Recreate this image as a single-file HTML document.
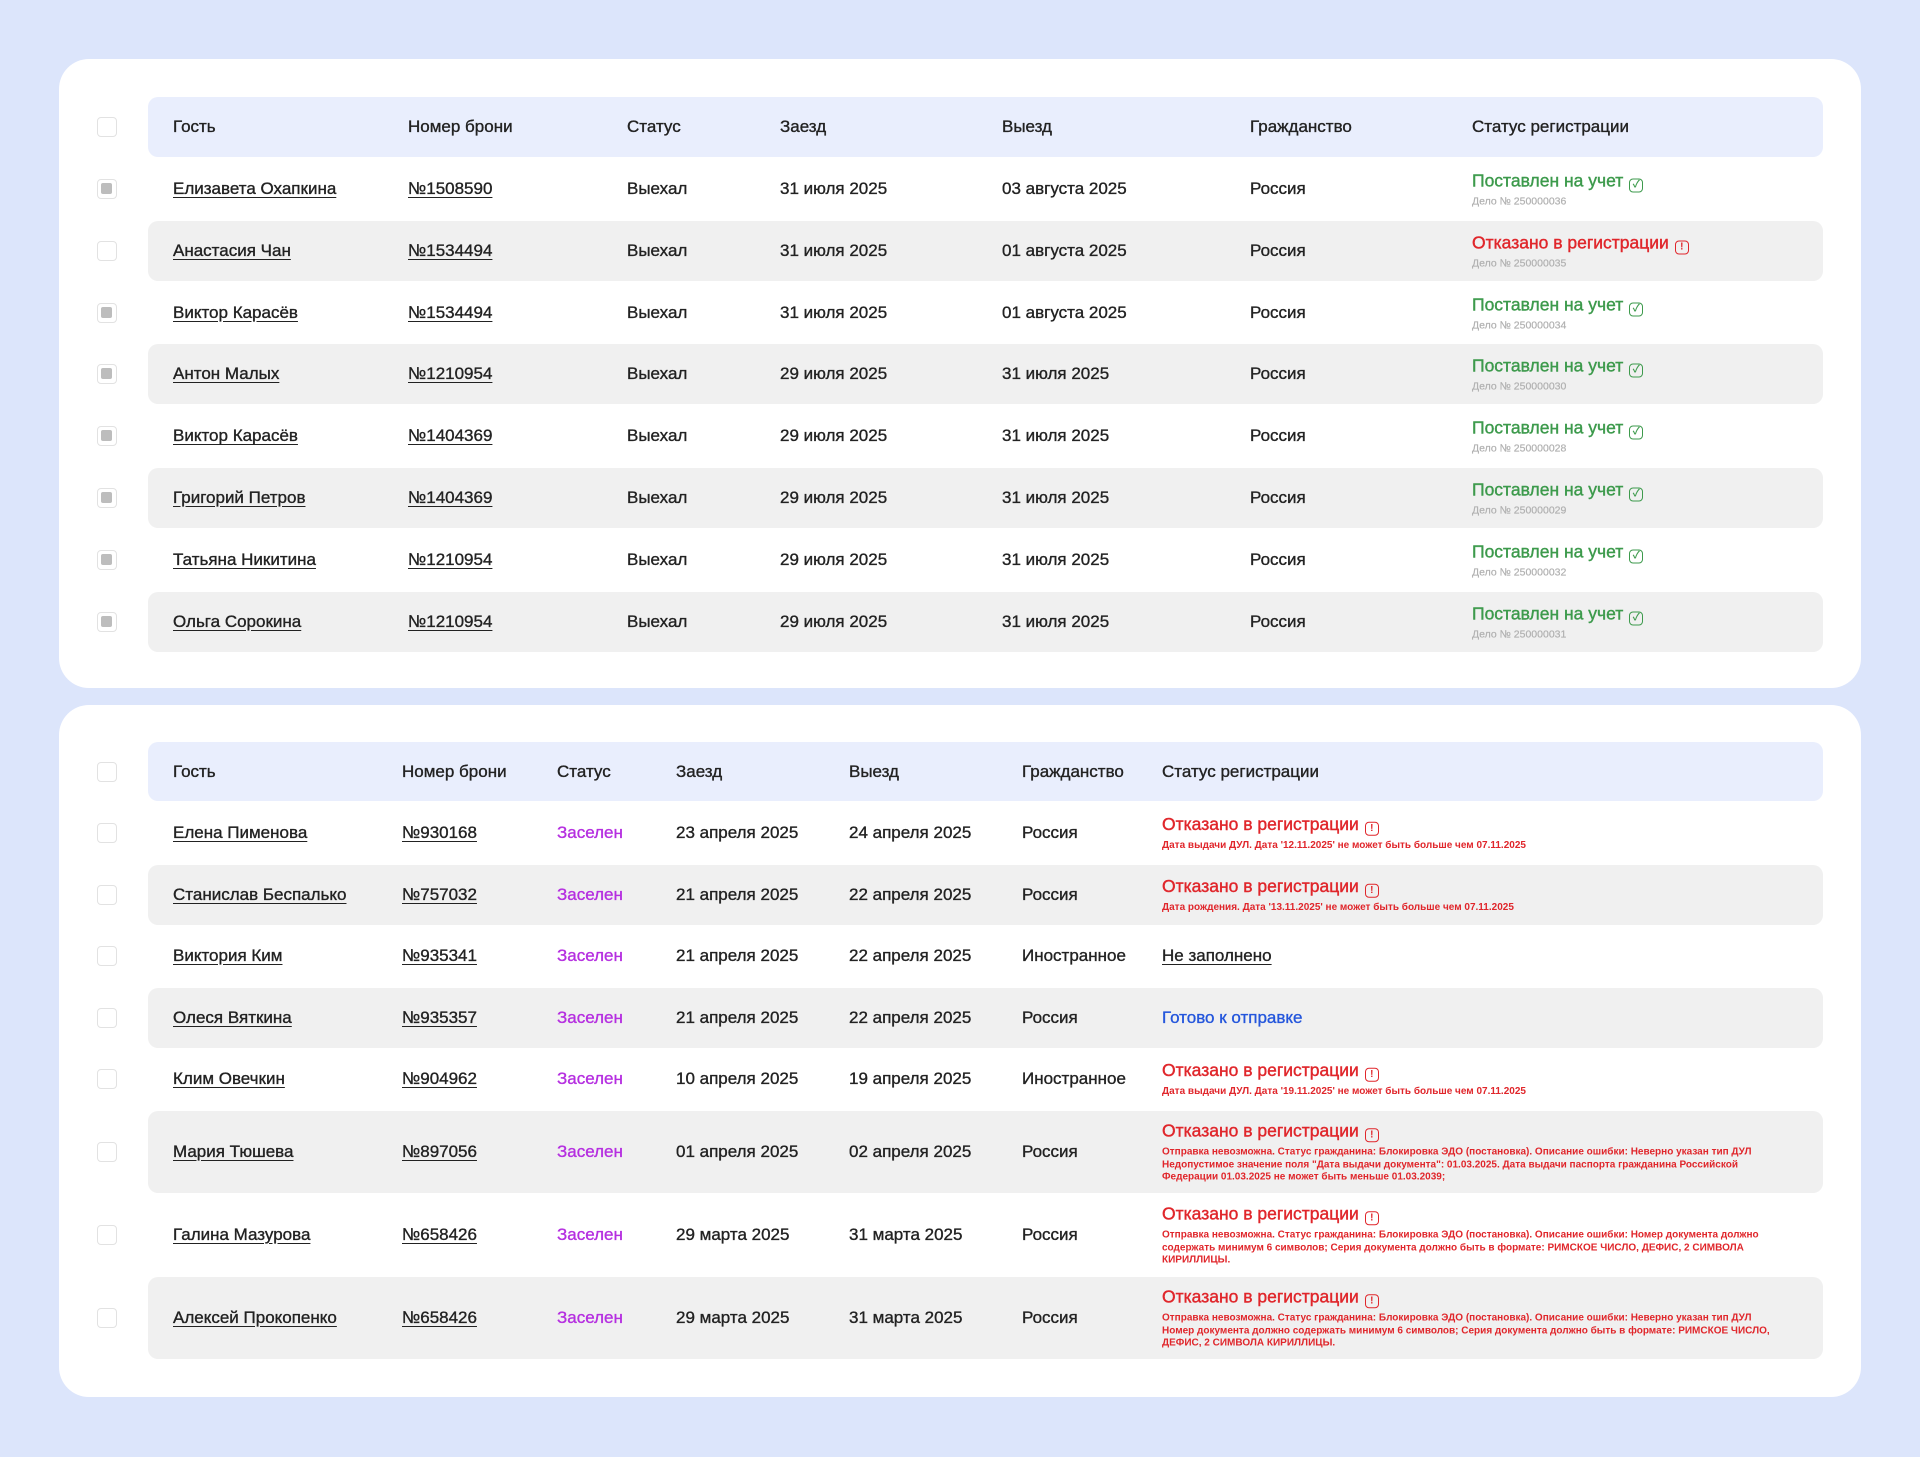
<!DOCTYPE html>
<html><head><meta charset="utf-8">
<style>
*{box-sizing:border-box;margin:0;padding:0}
body{width:1920px;height:1457px;background:#dce5fb;font-family:"Liberation Sans","Noto Sans CJK SC",sans-serif;color:#222;position:relative;overflow:hidden}
.card{position:absolute;left:59px;width:1802px;background:#fff;border-radius:30px}
.row{position:absolute;left:148px;width:1675px;border-radius:10px}
.hdr{background:#e9eefd}
.g{background:#f0f0f0}
.c{position:absolute;top:50%;transform:translateY(-50%);font-size:17px;white-space:nowrap;-webkit-text-stroke:0.35px currentColor}
.u{text-decoration:underline;text-underline-offset:3px}
.cb{position:absolute;left:-51px;top:50%;transform:translateY(-50%);width:20px;height:20px;border:1.5px solid #e2e2e2;border-radius:4px;background:#fff}
.cb.on::after{content:"";position:absolute;left:3px;top:3px;width:11px;height:11px;background:#bdbdbd;border-radius:2px}
.st{position:absolute;top:50%;transform:translateY(-50%);white-space:normal}
.gr{color:#3d9a4c;font-size:17.5px;-webkit-text-stroke:0.4px currentColor}
.rd{color:#e0262b;font-size:17.5px;-webkit-text-stroke:0.4px currentColor}
.sub{font-size:10.5px;color:#b0b0b0;margin-top:3px;-webkit-text-stroke:0.2px currentColor}
.err{font-size:10px;color:#e0262b;font-weight:bold;line-height:12.5px;margin-top:4px;width:610px}
.ic{display:inline-block;width:14px;height:14px;border:1.5px solid currentColor;border-radius:4px;vertical-align:-1px;margin-left:6px;font-size:10px;line-height:11px;text-align:center;font-weight:bold;-webkit-text-stroke:0}
.pu{color:#b52fe0}
.bl{color:#2456dc;-webkit-text-stroke:0.35px currentColor}
.nf{-webkit-text-stroke:0.35px currentColor}
</style></head><body>
<div class="card" style="top:59px;height:629px"></div>
<div class="card" style="top:705px;height:692px"></div>

<div class="row hdr" style="top:97px;height:60px">
<div class="cb"></div>
<div class="c" style="left:25px">Гость</div><div class="c" style="left:260px">Номер брони</div><div class="c" style="left:479px">Статус</div><div class="c" style="left:632px">Заезд</div><div class="c" style="left:854px">Выезд</div><div class="c" style="left:1102px">Гражданство</div><div class="c" style="left:1324px">Статус регистрации</div>
</div>
<div id="t1"></div>
<div id="t2"></div>
<script>
function row(top,h,g,cols,x,data,on){
 var s='<div class="row'+(g?' g':'')+'" style="top:'+top+'px;height:'+h+'px"><div class="cb'+(on?' on':'')+'"></div>';
 for(var i=0;i<6;i++){s+='<div class="c'+((i<2)?' u':'')+(data.cls&&i==2?' '+data.cls:'')+'" style="left:'+(x[i]-148)+'px">'+data.v[i]+'</div>';}
 s+='<div class="st" style="left:'+(x[6]-148)+'px">'+data.st+'</div></div>';return s;}
var ok=function(n){return '<div class="gr">Поставлен на учет<span class="ic">✓</span></div><div class="sub">Дело № '+n+'</div>'};
var no=function(t,c){return '<div class="rd">Отказано в регистрации<span class="ic">!</span></div><div class="'+c+'">'+t+'</div>'};
var x1=[173,408,627,780,1002,1250,1472];
var d1=[
["Елизавета Охапкина","№1508590","03 августа 2025",ok("250000036"),"31 июля 2025",1],
["Анастасия Чан","№1534494","01 августа 2025",no("Дело № 250000035","sub"),"31 июля 2025",0],
["Виктор Карасёв","№1534494","01 августа 2025",ok("250000034"),"31 июля 2025",1],
["Антон Малых","№1210954","31 июля 2025",ok("250000030"),"29 июля 2025",1],
["Виктор Карасёв","№1404369","31 июля 2025",ok("250000028"),"29 июля 2025",1],
["Григорий Петров","№1404369","31 июля 2025",ok("250000029"),"29 июля 2025",1],
["Татьяна Никитина","№1210954","31 июля 2025",ok("250000032"),"29 июля 2025",1],
["Ольга Сорокина","№1210954","31 июля 2025",ok("250000031"),"29 июля 2025",1]];
var h='';
for(var i=0;i<8;i++){var d=d1[i];h+=row(159+i*61.8,60,i%2==1,null,x1,{v:[d[0],d[1],"Выехал",d[4],d[2],"Россия"],st:d[3]},d[5]);}
document.getElementById('t1').innerHTML=h;
var x2=[173,402,557,676,849,1022,1162];
h='<div class="row hdr" style="top:742px;height:59px"><div class="cb"></div>';
var hn=["Гость","Номер брони","Статус","Заезд","Выезд","Гражданство","Статус регистрации"];
for(var i=0;i<7;i++)h+='<div class="c" style="left:'+(x2[i]-148)+'px">'+hn[i]+'</div>';
h+='</div>';
var e1='Отправка невозможна. Статус гражданина: Блокировка ЭДО (постановка). Описание ошибки: Неверно указан тип ДУЛ Недопустимое значение поля "Дата выдачи документа": 01.03.2025. Дата выдачи паспорта гражданина Российской Федерации 01.03.2025 не может быть меньше 01.03.2039;';
var e2='Отправка невозможна. Статус гражданина: Блокировка ЭДО (постановка). Описание ошибки: Номер документа должно содержать минимум 6 символов; Серия документа должно быть в формате: РИМСКОЕ ЧИСЛО, ДЕФИС, 2 СИМВОЛА КИРИЛЛИЦЫ.';
var e3='Отправка невозможна. Статус гражданина: Блокировка ЭДО (постановка). Описание ошибки: Неверно указан тип ДУЛ Номер документа должно содержать минимум 6 символов; Серия документа должно быть в формате: РИМСКОЕ ЧИСЛО, ДЕФИС, 2 СИМВОЛА КИРИЛЛИЦЫ.';
var d2=[
["Елена Пименова","№930168","23 апреля 2025","24 апреля 2025","Россия",no("Дата выдачи ДУЛ. Дата '12.11.2025' не может быть больше чем 07.11.2025","err")],
["Станислав Беспалько","№757032","21 апреля 2025","22 апреля 2025","Россия",no("Дата рождения. Дата '13.11.2025' не может быть больше чем 07.11.2025","err")],
["Виктория Ким","№935341","21 апреля 2025","22 апреля 2025","Иностранное",'<div class="u nf" style="font-size:17px">Не заполнено</div>'],
["Олеся Вяткина","№935357","21 апреля 2025","22 апреля 2025","Россия",'<div class="bl" style="font-size:17px">Готово к отправке</div>'],
["Клим Овечкин","№904962","10 апреля 2025","19 апреля 2025","Иностранное",no("Дата выдачи ДУЛ. Дата '19.11.2025' не может быть больше чем 07.11.2025","err")],
["Мария Тюшева","№897056","01 апреля 2025","02 апреля 2025","Россия",no(e1,"err")],
["Галина Мазурова","№658426","29 марта 2025","31 марта 2025","Россия",no(e2,"err")],
["Алексей Прокопенко","№658426","29 марта 2025","31 марта 2025","Россия",no(e3,"err")]];
var tops=[803,864.5,926,987.5,1049,1111,1194,1277];
for(var i=0;i<8;i++){var d=d2[i];h+=row(tops[i],i<5?60:82,i%2==1,null,x2,{v:[d[0],d[1],"Заселен",d[2],d[3],d[4]],st:d[5],cls:"pu"},0);}
document.getElementById('t2').innerHTML=h;
</script>
</body></html>
